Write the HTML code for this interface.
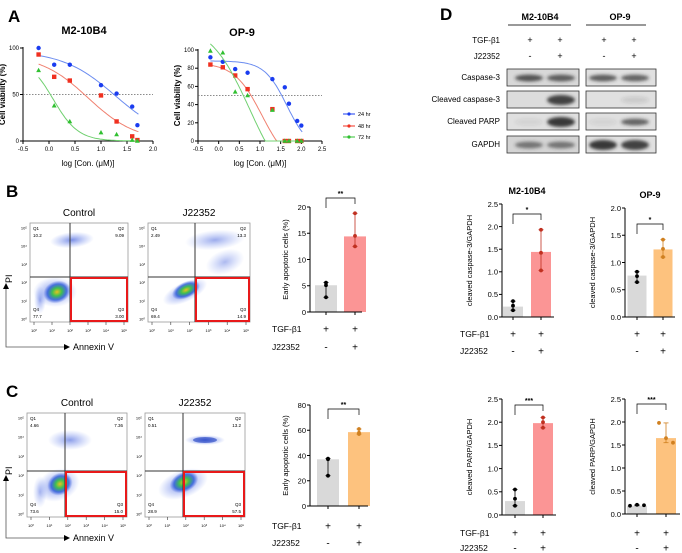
<!DOCTYPE html>
<html><head><meta charset="utf-8"><style>
html,body{margin:0;padding:0;background:#fff}
svg{display:block;font-family:"Liberation Sans",Arial,sans-serif}
</style></head><body>
<svg id="fig" width="682" height="553" viewBox="0 0 682 553" xmlns="http://www.w3.org/2000/svg">
<defs>
<filter id="blur1" x="-50%" y="-50%" width="200%" height="200%"><feGaussianBlur stdDeviation="1.6"/></filter>
<filter id="blur2" x="-50%" y="-50%" width="200%" height="200%"><feGaussianBlur stdDeviation="3"/></filter>
<radialGradient id="hot"><stop offset="0" stop-color="#e8c020"/><stop offset="0.35" stop-color="#40c050"/><stop offset="0.7" stop-color="#2a5ad8" stop-opacity="0.8"/><stop offset="1" stop-color="#4060e0" stop-opacity="0"/></radialGradient>
<radialGradient id="cool"><stop offset="0" stop-color="#3050d8" stop-opacity="0.8"/><stop offset="1" stop-color="#6080f0" stop-opacity="0"/></radialGradient>
</defs>
<g id="root"></g>
</svg>
<script>
// ---------- Panel A data ----------
const aLeftX = [-0.2, 0.1, 0.4, 1.0, 1.3, 1.6, 1.7];
const aLeft24 = [100, 82, 82, 60, 51, 37, 17];
const aLeft48 = [93, 69, 65, 49, 21, 5, 1];
const aLeft72 = [76, 38, 21, 9, 7, 1, 0];
const aRightX = [-0.2, 0.1, 0.4, 0.7, 1.3, 1.6, 1.7, 1.9, 2.0];
const aRight24 = [92, 87, 79, 75, 68, 59, 41, 22, 17];
const aRight48 = [84, 81, 72, 57, 35, 0, 0, 0, 0];
const aRight72 = [99, 97, 54, 50, 34, 0, 0, 0, 0];
const aLeftXTicks = ["-0.5","0.0","0.5","1.0","1.5","2.0"];
const aRightXTicks = ["-0.5","0.0","0.5","1.0","1.5","2.0","2.5"];
const aLeftYTicks = ["0","50","100"];
const aRightYTicks = ["0","20","40","60","80","100"];
// ---------- Bar data ----------
const bCats = ["Control","J22352"];
const bMeans = [5.1, 14.4];
const bPts = [[5.6, 5.1, 2.8],[18.8, 14.5, 12.5]];
const bTicks = [0,5,10,15,20];
const cMeans = [37, 58.5];
const cPts = [[37, 37.5, 24],[61, 58, 57]];
const cTicks = [0,20,40,60,80];
const dCasM2Means = [0.23, 1.44];
const dCasM2Pts = [[0.35,0.25,0.15],[1.93,1.42,1.03]];
const dCasOPMeans = [0.76, 1.24];
const dCasOPPts = [[0.83,0.75,0.64],[1.42,1.25,1.1]];
const dParpM2Means = [0.30, 1.98];
const dParpM2Pts = [[0.55,0.35,0.2],[2.1,2.0,1.88]];
const dParpOPMeans = [0.18, 1.65];
const dParpOPPts = [[0.18,0.2,0.19],[1.98,1.65,1.55]];
const ticks25 = ["0.0","0.5","1.0","1.5","2.0","2.5"];
const ticks20 = ["0.0","0.5","1.0","1.5","2.0"];

const NS="http://www.w3.org/2000/svg";
const root=document.getElementById('root');
function el(tag,attrs,parent,text){const e=document.createElementNS(NS,tag);for(const k in attrs)e.setAttribute(k,attrs[k]);if(text!==undefined)e.textContent=text;(parent||root).appendChild(e);return e;}
function txt(x,y,s,size,opts,parent){opts=opts||{};const a={x:x,y:y,'font-size':size,fill:opts.fill||'#000'};if(opts.anchor)a['text-anchor']=opts.anchor;if(opts.bold)a['font-weight']='bold';if(opts.rot)a.transform='rotate(-90 '+x+' '+y+')';const t=el('text',a,parent,s);return t;}

[["A",8,22],["D",440,20],["B",6,197],["C",6,397]].forEach(p=>{const t=txt(p[1],p[2],p[0],17,{bold:true});});

// ---------- Panel A ----------
function curvePanel(cfg){
  const g=el('g',{});
  const sx=v=>cfg.x0+(v-cfg.xmin)/(cfg.xmax-cfg.xmin)*(cfg.x1-cfg.x0);
  const sy=v=>cfg.y0-(v/100)*(cfg.y0-cfg.y100);
  el('line',{x1:cfg.x0,y1:cfg.y0,x2:cfg.x1,y2:cfg.y0,stroke:'#000','stroke-width':1},g);
  el('line',{x1:cfg.x0,y1:cfg.y0,x2:cfg.x0,y2:cfg.y100-1,stroke:'#000','stroke-width':1},g);
  cfg.xt.forEach(s=>{const v=parseFloat(s);el('line',{x1:sx(v),y1:cfg.y0,x2:sx(v),y2:cfg.y0+3,stroke:'#000'},g);txt(sx(v),cfg.y0+10,s,6,{anchor:'middle',name:'x-tick-label'},g);});
  cfg.yt.forEach(s=>{const v=parseFloat(s);el('line',{x1:cfg.x0-3,y1:sy(v),x2:cfg.x0,y2:sy(v),stroke:'#000'},g);txt(cfg.x0-4,sy(v)+2,s,6,{anchor:'end',name:'y-tick-label'},g);});
  el('line',{x1:cfg.x0,y1:sy(50),x2:cfg.x1,y2:sy(50),stroke:'#666','stroke-dasharray':'1.5,1.5','stroke-width':0.8},g);
  txt((cfg.x0+cfg.x1)/2,cfg.y0+25,'log [Con. (μM)]',8,{anchor:'middle',name:'x-axis-title'},g);
  txt(cfg.x0-18,(cfg.y0+cfg.y100)/2,'Cell viability (%)',8,{anchor:'middle',rot:true,bold:true,name:'y-axis-title'},g);
  txt((cfg.x0+cfg.x1)/2+cfg.tdx,cfg.y100-14,cfg.title,11,{anchor:'middle',bold:true,name:'chart-title'},g);
  cfg.series.forEach(s=>{
    let d='';for(let i=0;i<=60;i++){const v=s.fit[0]+(s.fit[1]-s.fit[0])*i/60;let y=s.bot+(s.top-s.bot)/(1+Math.pow(10,(v-s.ic)*s.h));y=Math.max(0,y);d+=(i?'L':'M')+sx(v).toFixed(1)+' '+sy(y).toFixed(1);}
    const p=el('path',{d:d,fill:'none',stroke:s.lc,'stroke-width':1},g);
    cfg.xs.forEach((xv,i)=>{const yv=s.vals[i];let m;
      if(s.shape==='c')m=el('circle',{cx:sx(xv),cy:sy(yv),r:2.2,fill:s.c},g);
      else if(s.shape==='s')m=el('rect',{x:sx(xv)-2.2,y:sy(yv)-2.2,width:4.4,height:4.4,fill:s.c},g);
      else {const X=sx(xv),Y=sy(yv);m=el('polygon',{points:`${X},${Y-2.6} ${X-2.4},${Y+1.8} ${X+2.4},${Y+1.8}`,fill:s.c},g);}
      });
  });
}
curvePanel({name:'viability-m2-10b4',x0:23,x1:153,xmin:-0.5,xmax:2.0,y0:141,y100:48,xt:aLeftXTicks,yt:aLeftYTicks,title:'M2-10B4',tdx:-4,xs:aLeftX,
 series:[{vals:aLeft24,c:'#1a3cf0',lc:'#6b8cf0',shape:'c',top:97,bot:0,ic:1.28,h:0.85,fit:[-0.2,1.72]},
         {vals:aLeft48,c:'#f03020',lc:'#f08070',shape:'s',top:93,bot:0,ic:0.75,h:0.95,fit:[-0.2,1.72]},
         {vals:aLeft72,c:'#30c030',lc:'#70d070',shape:'t',top:90,bot:0,ic:0.08,h:1.8,fit:[-0.2,1.72]}]});
curvePanel({name:'viability-op-9',x0:198,x1:322,xmin:-0.5,xmax:2.5,y0:141,y100:50,xt:aRightXTicks,yt:aRightYTicks,title:'OP-9',tdx:-18,xs:aRightX,
 series:[{vals:aRight24,c:'#1a3cf0',lc:'#6b8cf0',shape:'c',top:88,bot:-10,ic:1.65,h:1.6,fit:[-0.2,2.02]},
         {vals:aRight48,c:'#f03020',lc:'#f08070',shape:'s',top:86,bot:-30,ic:1.05,h:1.3,fit:[-0.2,1.9]},
         {vals:aRight72,c:'#30c030',lc:'#70d070',shape:'t',top:130,bot:-60,ic:0.75,h:0.9,fit:[-0.2,1.9]}]});
[['24 hr','#1a3cf0',114],['48 hr','#f03020',126],['72 hr','#30c030',137]].forEach(l=>{
  const g=el('g',{});
  el('line',{x1:343,y1:l[2],x2:355,y2:l[2],stroke:l[1]},g);el('circle',{cx:349,cy:l[2],r:1.6,fill:l[1]},g);
  txt(358,l[2]+2,l[0],5.5,{name:'legend-label'},g);});

// ---------- Panel D blots ----------
(function(){
  const g=el('g',{});
  txt(540,20,'M2-10B4',9,{anchor:'middle',bold:true,name:'blot-header-m2-10b4'},g);
  txt(620,20,'OP-9',9,{anchor:'middle',bold:true,name:'blot-header-op-9'},g);
  el('line',{x1:508,y1:25,x2:571,y2:25,stroke:'#333'},g);el('line',{x1:586,y1:25,x2:646,y2:25,stroke:'#333'},g);
  txt(500,43,'TGF-β1',8,{anchor:'end',name:'row-label'},g);txt(500,59,'J22352',8,{anchor:'end',name:'row-label'},g);
  const cols=[530,560,604,634];['+','+','+','+'].forEach((s,i)=>txt(cols[i],43,s,9,{anchor:'middle',name:'treatment-sign'},g));
  ['-','+','-','+'].forEach((s,i)=>txt(cols[i],59,s,9,{anchor:'middle',name:'treatment-sign'},g));
  const rows=[['Caspase-3',69,[0.8,0.75,0.75,0.7],'#d8d8d8'],['Cleaved caspase-3',91,[0,0.9,0,0.12],'#dcdcdc'],['Cleaved PARP',113,[0.08,0.95,0.08,0.7],'#e0e0e0'],['GAPDH',136,[0.6,0.6,0.95,0.9],'#d4d4d4']];
  rows.forEach(r=>{
    txt(500,r[1]+11,r[0],8,{anchor:'end',name:'blot-row-label'},g);
    [[507,579],[586,656]].forEach((b,bi)=>{el('rect',{x:b[0],y:r[1],width:b[1]-b[0],height:17,fill:bi?'#e0e0e0':r[3],stroke:'#333','stroke-width':0.8},g);});
    cols.forEach((c,i)=>{const a=r[2][i];if(a>0){const band=el('ellipse',{cx:c+(i%2?1:-1),cy:r[1]+9,rx:14,ry:a>0.85?5:3.4,fill:'#303030','fill-opacity':a,filter:'url(#blur1)'},g);}});
  });
})();

// ---------- Flow plots ----------
function flow(cfg){
  const g=el('g',{});
  el('rect',{x:cfg.x0,y:cfg.y0,width:cfg.x1-cfg.x0,height:cfg.y1-cfg.y0,fill:'#fff',stroke:'#999','stroke-width':0.8},g);
  cfg.blobs.forEach(b=>{const e=el('ellipse',{cx:b[0],cy:b[1],rx:b[2],ry:b[3],fill:b[4],transform:`rotate(${b[5]} ${b[0]} ${b[1]})`,opacity:b[6]},g);});
  el('line',{x1:cfg.cx,y1:cfg.y0,x2:cfg.cx,y2:cfg.y1,stroke:'#333','stroke-width':1},g);
  el('line',{x1:cfg.x0,y1:cfg.cy,x2:cfg.x1,y2:cfg.cy,stroke:'#333','stroke-width':1},g);
  const rb=el('rect',{x:cfg.cx+1,y:cfg.cy+1,width:cfg.x1-cfg.cx-2,height:cfg.y1-cfg.cy-2,fill:'none',stroke:'#e8191a','stroke-width':2},g);
  txt(cfg.x0+3,cfg.y0+7,'Q1',4.5,{name:'quadrant-label'},g);txt(cfg.x0+3,cfg.y0+14,cfg.q[0],4.5,{name:'quadrant-value'},g);
  txt(cfg.x1-4,cfg.y0+7,'Q2',4.5,{anchor:'end',name:'quadrant-label'},g);txt(cfg.x1-4,cfg.y0+14,cfg.q[1],4.5,{anchor:'end',name:'quadrant-value'},g);
  txt(cfg.x0+3,cfg.y1-11,'Q4',4.5,{name:'quadrant-label'},g);txt(cfg.x0+3,cfg.y1-4,cfg.q[3],4.5,{name:'quadrant-value'},g);
  txt(cfg.x1-4,cfg.y1-11,'Q3',4.5,{anchor:'end',name:'quadrant-label'},g);txt(cfg.x1-4,cfg.y1-4,cfg.q[2],4.5,{anchor:'end',name:'quadrant-value'},g);
  for(let i=0;i<6;i++){const y=cfg.y1-3-i*(cfg.y1-cfg.y0-8)/5;txt(cfg.x0-3,y+1.5,'10'+'⁰¹²³⁴⁵'[i],4,{anchor:'end',name:'y-tick-label'},g);
    const x=cfg.x0+4+i*(cfg.x1-cfg.x0-8)/5;txt(x,cfg.y1+10,'10'+'⁰¹²³⁴⁵'[i],4,{anchor:'middle',name:'x-tick-label'},g);
    el('line',{x1:x,y1:cfg.y1,x2:x,y2:cfg.y1+3,stroke:'#333','stroke-width':0.6},g);}
  txt((cfg.x0+cfg.x1)/2,cfg.y0-7,cfg.title,10,{anchor:'middle',name:'flow-title'},g);
}
function axesArrows(yTop,yBot,name){
  const g=el('g',{});
  el('path',{d:`M6 ${yTop} L6 ${yBot} L66 ${yBot}`,fill:'none',stroke:'#555','stroke-width':0.8},g);
  el('polygon',{points:`3,${yTop+1} 9,${yTop+1} 6,${yTop-5}`,fill:'#000'},g);
  el('polygon',{points:`64,${yBot-3} 64,${yBot+3} 70,${yBot}`,fill:'#000'},g);
  txt(12,yTop-5,'PI',9,{rot:true,anchor:'start',name:'pi-axis-label'},g);
  txt(73,yBot+3,'Annexin V',9,{name:'annexin-axis-label'},g);
}
flow({name:'flow-b-control',x0:30,x1:128,y0:223,y1:322,cx:70,cy:277,q:['10.2','9.09','3.00','77.7'],title:'Control',
 blobs:[[55,292,22,15,'url(#cool)',0,0.9],[57,292,14,11,'url(#hot)',-20,1],[72,240,22,8,'url(#cool)',-5,0.8],[40,300,6,14,'url(#cool)',0,0.6]]});
flow({name:'flow-b-j22352',x0:148,x1:250,y0:223,y1:322,cx:195,cy:277,q:['2.49','13.3','14.9','69.4'],title:'J22352',
 blobs:[[185,292,24,10,'url(#cool)',-25,0.9],[186,290,15,8,'url(#hot)',-25,1],[215,240,30,10,'url(#cool)',-5,0.6],[225,262,20,12,'url(#cool)',-20,0.5]]});
axesArrows(288,347,'flow-axes-b');
flow({name:'flow-c-control',x0:27,x1:127,y0:413,y1:517,cx:65,cy:471,q:['4.66','7.36','15.0','73.6'],title:'Control',
 blobs:[[58,485,22,16,'url(#cool)',-20,0.9],[60,484,13,11,'url(#hot)',-30,1],[70,440,22,10,'url(#cool)',0,0.7],[40,492,7,16,'url(#cool)',0,0.5]]});
flow({name:'flow-c-j22352',x0:145,x1:245,y0:413,y1:517,cx:183,cy:471,q:['0.51','13.2','57.5','28.9'],title:'J22352',
 blobs:[[183,484,26,14,'url(#cool)',-20,0.9],[184,482,15,10,'url(#hot)',-25,1],[205,440,20,5,'url(#cool)',0,1],[205,440,12,3,'#2040c0',0,0.6]]});
axesArrows(480,538,'flow-axes-c');

// ---------- Bar charts ----------
function bars(cfg){
  const g=el('g',{});
  const ys=v=>cfg.y0-(v/cfg.max)*(cfg.y0-cfg.ytop);
  cfg.means.forEach((m,i)=>{const c=cfg.centers[i];
    const b=el('rect',{x:c-cfg.bw/2,y:ys(m),width:cfg.bw,height:cfg.y0-ys(m),fill:cfg.colors[i]},g);
    const p=cfg.pts[i];const lo=Math.min(...p),hi=Math.max(...p);const ec=cfg.ecol[i];
    el('line',{x1:c,y1:ys(lo),x2:c,y2:ys(hi),stroke:ec,'stroke-width':0.8},g);
    el('line',{x1:c-2.5,y1:ys(hi),x2:c+2.5,y2:ys(hi),stroke:ec,'stroke-width':0.8},g);
    el('line',{x1:c-2.5,y1:ys(lo),x2:c+2.5,y2:ys(lo),stroke:ec,'stroke-width':0.8},g);
    p.forEach((v,j)=>{const d=el('circle',{cx:c+(cfg.spread?(j-1)*7:0),cy:ys(v),r:1.9,fill:ec},g);});
  });
  el('line',{x1:cfg.ax,y1:cfg.y0,x2:cfg.ax,y2:cfg.ytop,stroke:'#000'},g);
  el('line',{x1:cfg.ax,y1:cfg.y0,x2:cfg.ax+cfg.w,y2:cfg.y0,stroke:'#000'},g);
  cfg.centers.forEach(c=>el('line',{x1:c,y1:cfg.y0,x2:c,y2:cfg.y0+3,stroke:'#000'},g));
  cfg.ticks.forEach(t=>{const v=parseFloat(t);el('line',{x1:cfg.ax-3,y1:ys(v),x2:cfg.ax,y2:ys(v),stroke:'#000'},g);txt(cfg.ax-4,ys(v)+2.8,String(t),7.5,{anchor:'end',name:'y-tick-label'},g);});
  txt(cfg.ax-cfg.ylo,(cfg.y0+cfg.ytop)/2,cfg.ylabel,7.5,{anchor:'middle',rot:true,name:'y-axis-title'},g);
  const sy=cfg.sigY;el('path',{d:`M${cfg.centers[0]} ${sy+10} L${cfg.centers[0]} ${sy} L${cfg.centers[1]} ${sy} L${cfg.centers[1]} ${sy+6}`,fill:'none',stroke:'#000','stroke-width':0.7},g);
  txt((cfg.centers[0]+cfg.centers[1])/2,sy-2,cfg.sig,7,{anchor:'middle',bold:true,name:'significance-label'},g);
  if(cfg.title)txt((cfg.centers[0]+cfg.centers[1])/2,cfg.ytop-10,cfg.title,9,{anchor:'middle',bold:true,name:'chart-title'},g);
  if(cfg.rowLabels)[['TGF-β1',cfg.r1],['J22352',cfg.r2]].forEach(r=>txt(cfg.rlx,r[1]+3,r[0],8.5,{name:'row-label'},g));
  cfg.centers.forEach((c,i)=>{txt(c,cfg.r1+3.5,'+',10,{anchor:'middle',name:'treatment-sign'},g);txt(c,cfg.r2+3.5,i?'+':'-',10,{anchor:'middle',name:'treatment-sign'},g);});
}
const gray='#d9d9d9',red='#fb9595',orange='#fdc27e';
bars({name:'bar-chart-b',ax:310,w:52,y0:312,ytop:207,max:20,ticks:bTicks,means:bMeans,pts:bPts,centers:[326,355],bw:22,colors:[gray,red],ecol:['#000','#c03020'],ylabel:'Early apoptotic cells (%)',ylo:22,sig:'**',sigY:198,rowLabels:true,rlx:272,r1:329,r2:347});
bars({name:'bar-chart-c',ax:310,w:58,y0:506,ytop:405,max:80,ticks:cTicks,means:cMeans,pts:cPts,centers:[328,359],bw:22,colors:[gray,orange],ecol:['#000','#d08020'],ylabel:'Early apoptotic cells (%)',ylo:22,sig:'**',sigY:409,rowLabels:true,rlx:272,r1:526,r2:543});
bars({name:'bar-chart-caspase-m2-10b4',ax:502,w:52,y0:317,ytop:204,max:2.5,ticks:ticks25,means:dCasM2Means,pts:dCasM2Pts,centers:[513,541],bw:20,colors:[gray,red],ecol:['#000','#c03020'],ylabel:'cleaved caspase-3/GAPDH',ylo:30,sig:'*',sigY:214,title:'M2-10B4',rowLabels:true,rlx:460,r1:334,r2:351});
bars({name:'bar-chart-caspase-op-9',ax:625,w:50,y0:317,ytop:208,max:2.0,ticks:ticks20,means:dCasOPMeans,pts:dCasOPPts,centers:[637,663],bw:19,colors:[gray,orange],ecol:['#000','#d08020'],ylabel:'cleaved caspase-3/GAPDH',ylo:30,sig:'*',sigY:224,title:'OP-9',rowLabels:false,r1:334,r2:351});
bars({name:'bar-chart-parp-m2-10b4',ax:502,w:54,y0:515,ytop:399,max:2.5,ticks:ticks25,means:dParpM2Means,pts:dParpM2Pts,centers:[515,543],bw:20,colors:[gray,red],ecol:['#000','#c03020'],ylabel:'cleaved PARP/GAPDH',ylo:30,sig:'***',sigY:405,rowLabels:true,rlx:460,r1:533,r2:548});
bars({name:'bar-chart-parp-op-9',ax:625,w:55,y0:514,ytop:399,max:2.5,ticks:ticks25,means:dParpOPMeans,pts:dParpOPPts,centers:[637,666],bw:20,colors:[gray,orange],ecol:['#000','#d08020'],ylabel:'cleaved PARP/GAPDH',ylo:30,sig:'***',sigY:404,spread:true,rowLabels:false,r1:533,r2:548});
</script>
</body></html>
